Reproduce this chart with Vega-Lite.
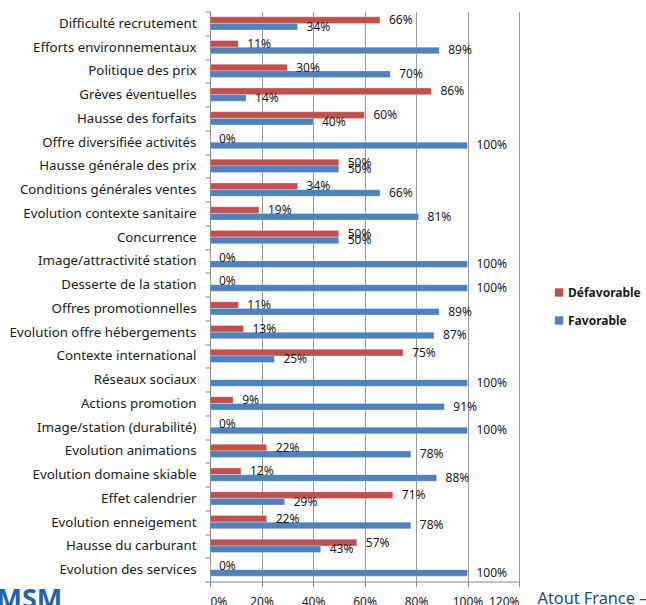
{
  "$schema": "https://vega.github.io/schema/vega-lite/v6.json",
  "autosize": "none",
  "width": 309,
  "height": 570,
  "padding": {"left": 210, "top": 11.5, "right": 127, "bottom": 23.5},
  "background": "white",
  "config": {
    "view": {"stroke": null},
    "font": "Noto Sans"
  },
  "data": {
    "values": [
      {"item": "Difficulté recrutement", "serie": "Défavorable", "v": 0.66},
      {"item": "Difficulté recrutement", "serie": "Favorable", "v": 0.34},
      {"item": "Efforts environnementaux", "serie": "Défavorable", "v": 0.11},
      {"item": "Efforts environnementaux", "serie": "Favorable", "v": 0.89},
      {"item": "Politique des prix", "serie": "Défavorable", "v": 0.30},
      {"item": "Politique des prix", "serie": "Favorable", "v": 0.70},
      {"item": "Grèves éventuelles", "serie": "Défavorable", "v": 0.86},
      {"item": "Grèves éventuelles", "serie": "Favorable", "v": 0.14},
      {"item": "Hausse des forfaits", "serie": "Défavorable", "v": 0.60},
      {"item": "Hausse des forfaits", "serie": "Favorable", "v": 0.40},
      {"item": "Offre diversifiée activités", "serie": "Défavorable", "v": 0.0},
      {"item": "Offre diversifiée activités", "serie": "Favorable", "v": 1.0},
      {"item": "Hausse générale des prix", "serie": "Défavorable", "v": 0.50},
      {"item": "Hausse générale des prix", "serie": "Favorable", "v": 0.50},
      {"item": "Conditions générales ventes", "serie": "Défavorable", "v": 0.34},
      {"item": "Conditions générales ventes", "serie": "Favorable", "v": 0.66},
      {"item": "Evolution contexte sanitaire", "serie": "Défavorable", "v": 0.19},
      {"item": "Evolution contexte sanitaire", "serie": "Favorable", "v": 0.81},
      {"item": "Concurrence", "serie": "Défavorable", "v": 0.50},
      {"item": "Concurrence", "serie": "Favorable", "v": 0.50},
      {"item": "Image/attractivité station", "serie": "Défavorable", "v": 0.0},
      {"item": "Image/attractivité station", "serie": "Favorable", "v": 1.0},
      {"item": "Desserte de la station", "serie": "Défavorable", "v": 0.0},
      {"item": "Desserte de la station", "serie": "Favorable", "v": 1.0},
      {"item": "Offres promotionnelles", "serie": "Défavorable", "v": 0.11},
      {"item": "Offres promotionnelles", "serie": "Favorable", "v": 0.89},
      {"item": "Evolution offre hébergements", "serie": "Défavorable", "v": 0.13},
      {"item": "Evolution offre hébergements", "serie": "Favorable", "v": 0.87},
      {"item": "Contexte international", "serie": "Défavorable", "v": 0.75},
      {"item": "Contexte international", "serie": "Favorable", "v": 0.25},
      {"item": "Réseaux sociaux", "serie": "Favorable", "v": 1.0},
      {"item": "Actions promotion", "serie": "Défavorable", "v": 0.09},
      {"item": "Actions promotion", "serie": "Favorable", "v": 0.91},
      {"item": "Image/station (durabilité)", "serie": "Défavorable", "v": 0.0},
      {"item": "Image/station (durabilité)", "serie": "Favorable", "v": 1.0},
      {"item": "Evolution animations", "serie": "Défavorable", "v": 0.22},
      {"item": "Evolution animations", "serie": "Favorable", "v": 0.78},
      {"item": "Evolution domaine skiable", "serie": "Défavorable", "v": 0.12},
      {"item": "Evolution domaine skiable", "serie": "Favorable", "v": 0.88},
      {"item": "Effet calendrier", "serie": "Défavorable", "v": 0.71},
      {"item": "Effet calendrier", "serie": "Favorable", "v": 0.29},
      {"item": "Evolution enneigement", "serie": "Défavorable", "v": 0.22},
      {"item": "Evolution enneigement", "serie": "Favorable", "v": 0.78},
      {"item": "Hausse du carburant", "serie": "Défavorable", "v": 0.57},
      {"item": "Hausse du carburant", "serie": "Favorable", "v": 0.43},
      {"item": "Evolution des services", "serie": "Défavorable", "v": 0.0},
      {"item": "Evolution des services", "serie": "Favorable", "v": 1.0}
    ]
  },
  "encoding": {
    "y": {
      "field": "item", "type": "nominal", "sort": null,
      "scale": {"paddingInner": 0, "paddingOuter": 0},
      "axis": {
        "title": "MSM",
        "titleAngle": 0, "titleX": -214, "titleY": 596, "titleAlign": "left", "titleBaseline": "alphabetic",
        "titleFontSize": 27, "titleFontWeight": "bold", "titleColor": "#2363AE", "titleFont": "Noto Sans",
        "tickBand": "extent", "tickSize": 5, "tickColor": "#868686",
        "domainColor": "#868686", "labelPadding": 9,
        "labelFontSize": 13.3, "labelColor": "#1a1a1a", "labelFont": "Noto Sans", "labelLimit": 300
      }
    },
    "yOffset": {
      "field": "serie", "type": "nominal",
      "scale": {"domain": ["Défavorable", "Favorable"], "paddingInner": 0, "paddingOuter": 0.8}
    },
    "x": {
      "field": "v", "type": "quantitative",
      "scale": {"domain": [0, 1.2], "nice": false},
      "axis": {
        "format": ".0%", "values": [0, 0.2, 0.4, 0.6, 0.8, 1.0, 1.2],
        "grid": true, "gridColor": "#9a9a9a", "domainColor": "#868686", "tickColor": "#868686",
        "tickSize": 5, "labelPadding": 10, "labelFontSize": 12, "labelColor": "#1a1a1a",
        "title": "Atout France –", "titleX": 327, "titleY": 22, "titleAlign": "left", "titleBaseline": "alphabetic",
        "titleFontSize": 16.3, "titleFontWeight": "normal", "titleColor": "#1F497D"
      }
    }
  },
  "layer": [
    {
      "mark": {"type": "bar", "stroke": "white", "strokeOpacity": 0.35, "strokeWidth": 0.8},
      "encoding": {
        "color": {
          "field": "serie", "type": "nominal",
          "scale": {"domain": ["Défavorable", "Favorable"], "range": ["#C0504D", "#4F81BD"]},
          "legend": {
            "title": null, "orient": "none", "legendX": 343, "legendY": 275,
            "symbolType": "square", "symbolSize": 70, "symbolStrokeWidth": 0,
            "labelFontSize": 12, "labelFontWeight": "bold", "labelColor": "#1a1a1a",
            "rowPadding": 16, "labelOffset": 3
          }
        }
      }
    },
    {
      "mark": {"type": "text", "align": "left", "baseline": "middle", "dx": 9, "fontSize": 12, "color": "#1a1a1a"},
      "encoding": {
        "text": {"field": "v", "type": "quantitative", "format": ".0%"}
      }
    }
  ]
}
